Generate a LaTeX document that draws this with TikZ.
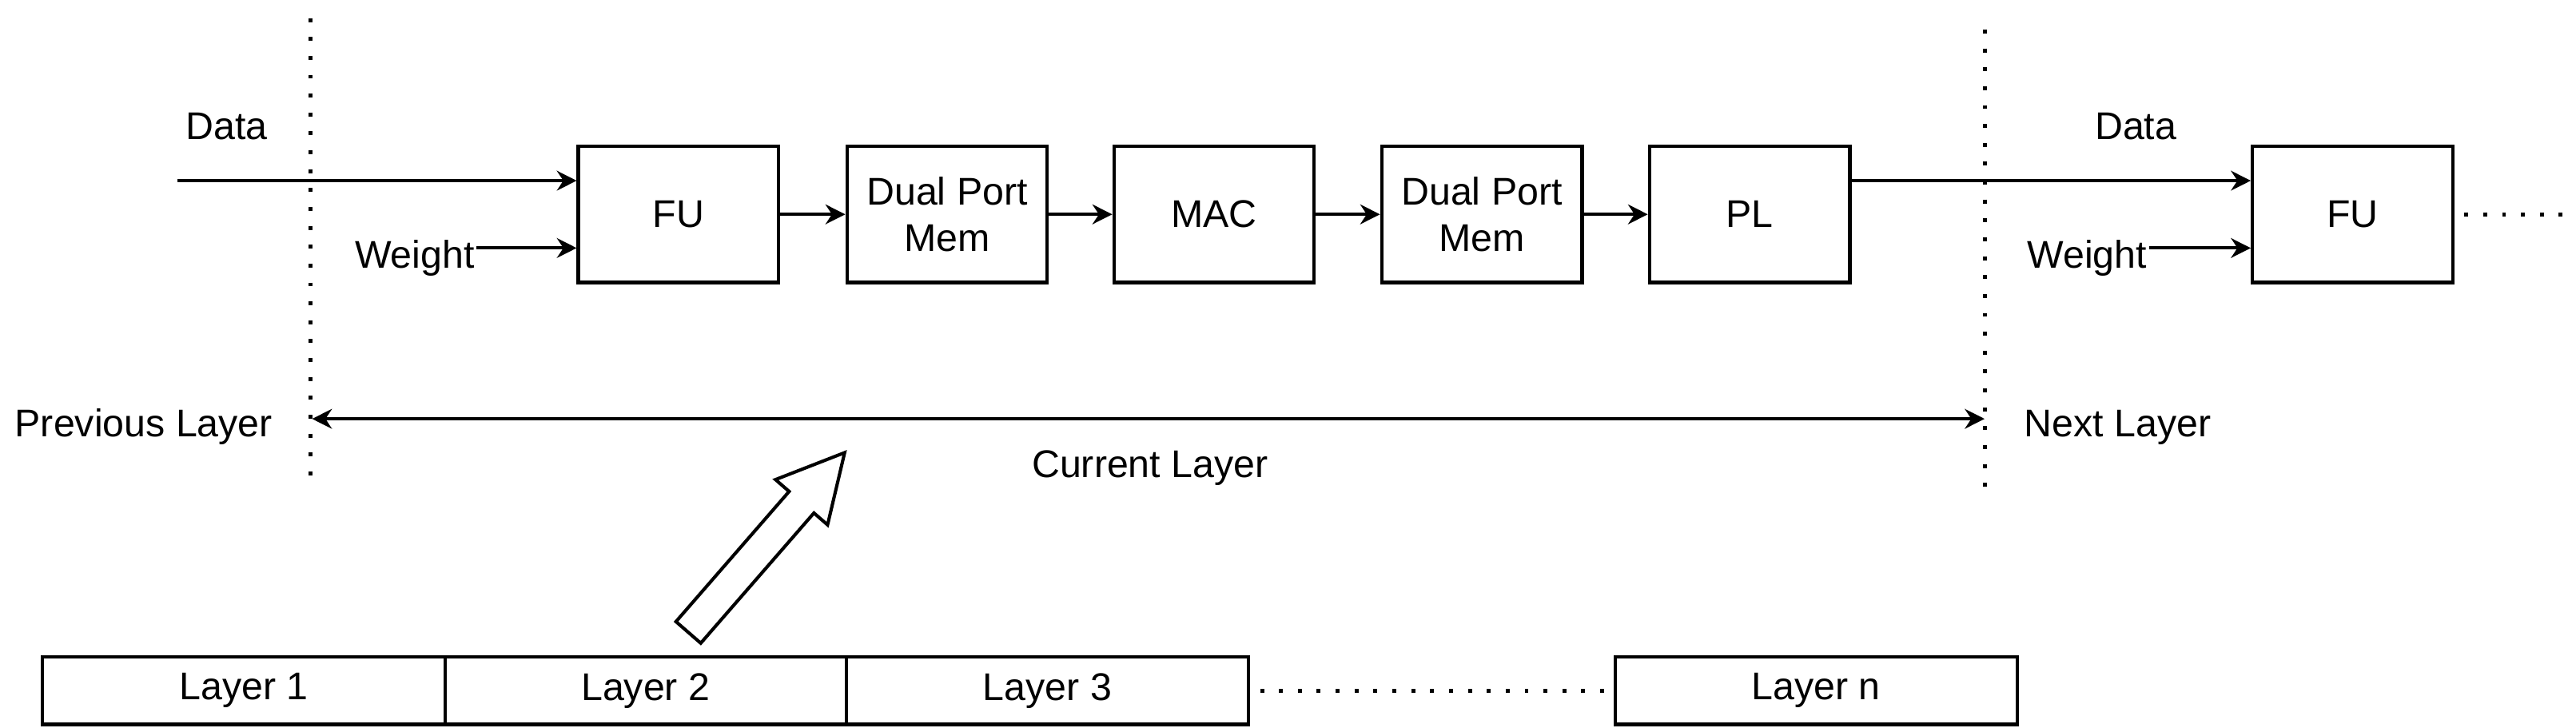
\documentclass[tikz,border=0pt]{standalone}
\usepackage{fontspec}
\setmainfont{Liberation Sans}
\usetikzlibrary{arrows.meta}
\begin{document}
\begin{tikzpicture}[x=1pt,y=-1pt,
  blk/.style={draw,line width=2pt,minimum width=122pt,minimum height=83pt,inner sep=0pt,align=center,font=\fontsize{23.5}{28}\selectfont},
  lay/.style={draw,line width=2pt,minimum height=41pt,inner sep=0pt,font=\fontsize{23.5}{28}\selectfont},
  lbl/.style={font=\fontsize{23.5}{28}\selectfont,inner sep=1pt},
  arr/.style={line width=2pt,-{Stealth[length=12pt,width=12pt]}},
  dots/.style={line width=2.4pt,dash pattern=on 2.4pt off 9.1pt}]
\useasboundingbox (0,0) rectangle (1568,443);
% blocks
\node[blk] (fu)  at (413,130.5) {FU};
\node[blk] (dp1) at (576.5,130.5) {Dual Port\\Mem};
\node[blk] (mac) at (739,130.5) {MAC};
\node[blk] (dp2) at (902,130.5) {Dual Port\\Mem};
\node[blk] (pl)  at (1065,130.5) {PL};
\node[blk] (fu2) at (1432,130.5) {FU};
% dotted separators
\coordinate (s1a) at (189,11); \coordinate (s1b) at (189,296);
\coordinate (s2a) at (1208,18); \coordinate (s2b) at (1208,300);
\draw[dots] (s1a) -- (s1b);
\draw[dots] (s2a) -- (s2b);
% inputs
\coordinate (din) at (108,110);
\node[lbl] (data1) at (138,77) {Data};
\node[lbl,anchor=east] (w1) at (290,157) {Weight};
\draw[arr] (din) -- (fu.west |- din);
\draw[arr] (w1.east |- 0,151) -- (fu.west |- 0,151);
\draw[arr] (fu) -- (dp1);
\draw[arr] (dp1) -- (mac);
\draw[arr] (mac) -- (dp2);
\draw[arr] (dp2) -- (pl);
\draw[arr] (pl.east |- din) -- (fu2.west |- din);
\node[lbl] (data2) at (1300,77) {Data};
\node[lbl,anchor=east] (w2) at (1308,157) {Weight};
\draw[arr] (w2.east |- 0,151) -- (fu2.west |- 0,151);
\coordinate (fend) at (1568,130.5);
\draw[dots] (fu2.east) ++(6,0) -- (fend);
% layer span
\coordinate (la) at (190,255); \coordinate (lb) at (1208,255);
\draw[line width=2pt,{Stealth[length=12pt,width=12pt]}-{Stealth[length=12pt,width=12pt]}] (la) -- (lb);
\node[lbl] (prev) at (87.5,260) {Previous Layer};
\node[lbl] (next) at (1289,260) {Next Layer};
\node[lbl] (cur) at (700,285) {Current Layer};
% hollow arrow
\draw[line width=2pt,line join=miter,shift={(419,385)},rotate=49] (0,-10)--(105,-10)--(105,-21)--(145,0)--(105,21)--(105,10)--(0,10)--cycle;
% layer row
\node[lay,minimum width=245pt] (l1) at (148.5,420.5) {Layer 1};
\node[lay,minimum width=244pt] (l2) at (393,420.5) {Layer 2};
\node[lay,minimum width=245pt] (l3) at (637.5,420.5) {Layer 3};
\node[lay,minimum width=245pt] (ln) at (1105.5,420.5) {Layer n};
\draw[dots] (l3.east) ++(6,0) -- (ln.west);
\end{tikzpicture}
\end{document}
